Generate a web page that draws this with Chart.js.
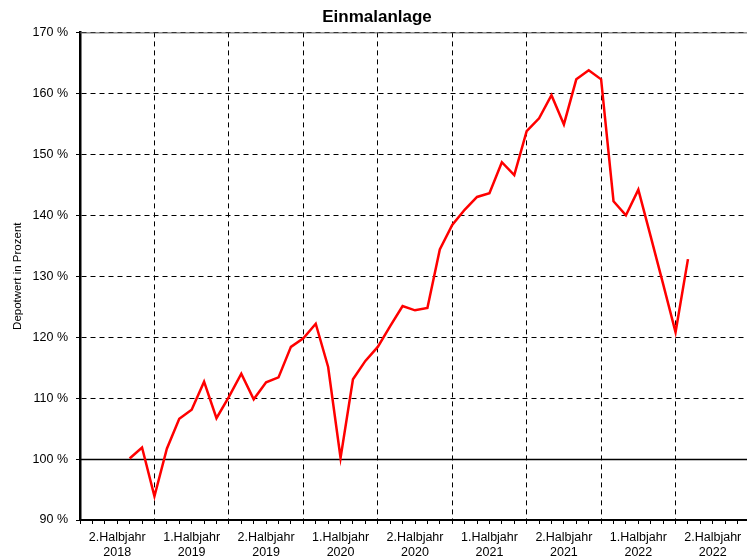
<!DOCTYPE html>
<html>
<head>
<meta charset="utf-8">
<script src="https://cdn.jsdelivr.net/npm/chart.js@4"></script>
<style>
  html, body { margin: 0; padding: 0; background: #fff; overflow: hidden; }
</style>
</head>
<body>
<canvas id="chart" width="756" height="560"></canvas>
<script>
// Monatswerte ab Nov 2018 (Monatsindex 0 = Jul 2018)
const startMonth = 4;
const depotwert = [
  100.1, 101.9, 93.9, 101.7, 106.6, 108.1, 112.7, 106.7, 110.2, 114.0,
  109.8, 112.6, 113.4, 118.4, 119.8, 122.2, 115.1, 100.2, 113.1, 116.1,
  118.4, 121.8, 125.1, 124.4, 124.8, 134.4, 138.4, 140.9, 143.0, 143.6,
  148.7, 146.6, 153.8, 155.9, 159.7, 154.9, 162.3, 163.8, 162.3, 142.3,
  140.0, 144.2, 136.5, 128.7, 120.8, 132.8
];
const halbjahre = [
  ["2.Halbjahr", "2018"], ["1.Halbjahr", "2019"], ["2.Halbjahr", "2019"],
  ["1.Halbjahr", "2020"], ["2.Halbjahr", "2020"], ["1.Halbjahr", "2021"],
  ["2.Halbjahr", "2021"], ["1.Halbjahr", "2022"], ["2.Halbjahr", "2022"]
];
const yTicks = [90, 100, 110, 120, 130, 140, 150, 160, 170];
const baseline = 100;

const points = depotwert.map((v, i) => ({ x: startMonth + i, y: v }));

const framePlugin = {
  id: "frame",
  beforeDatasetsDraw(chart) {
    const { ctx, chartArea: a, scales: { y } } = chart;
    ctx.save();
    ctx.lineWidth = 1;
    ctx.strokeStyle = "#555";
    ctx.beginPath();
    ctx.moveTo(a.left, a.top + 0.5);
    ctx.lineTo(a.right, a.top + 0.5);
    ctx.stroke();
    const by = Math.round(y.getPixelForValue(baseline)) + 0.5;
    ctx.strokeStyle = "#000";
    ctx.lineWidth = 1.3;
    ctx.beginPath();
    ctx.moveTo(a.left, by);
    ctx.lineTo(a.right, by);
    ctx.stroke();
    ctx.restore();
  }
};

const family = "'Liberation Sans', Arial, sans-serif";
const font = { family: family, size: 12.5 };

new Chart(document.getElementById("chart"), {
  type: "line",
  data: {
    datasets: [{
      data: points,
      borderColor: "#ff0000",
      borderWidth: 2.5,
      pointRadius: 0,
      tension: 0,
      fill: false
    }]
  },
  options: {
    responsive: false,
    animation: false,
    devicePixelRatio: 1,
    layout: { padding: { left: 0, right: 2, top: 0, bottom: 0 } },
    plugins: {
      legend: { display: false },
      tooltip: { enabled: false },
      title: {
        display: true,
        text: "Einmalanlage",
        color: "#000",
        font: { family: family, size: 17, weight: "bold" },
        padding: { top: 7, bottom: 5 }
      }
    },
    scales: {
      x: {
        type: "linear",
        min: 0,
        max: halbjahre.length * 6,
        afterFit: (s) => { s.height = 40; },
        ticks: {
          stepSize: 1,
          autoSkip: false,
          maxRotation: 0,
          padding: 6,
          color: "#000",
          font: { family: family, size: 12.5, lineHeight: 1.18 },
          callback: (v) => (v % 6 === 3 ? halbjahre[(v - 3) / 6] : "")
        },
        grid: {
          color: (c) => (c.tick && c.tick.value % 6 === 0 ? "#000" : "rgba(0,0,0,0)"),
          lineWidth: 1,
          tickColor: "#000",
          tickLength: 4,
          tickWidth: 1
        },
        border: { display: true, color: "#000", width: 2, dash: [5, 4] }
      },
      y: {
        min: yTicks[0],
        max: yTicks[yTicks.length - 1],
        afterBuildTicks: (s) => { s.ticks = yTicks.map((v) => ({ value: v })); },
        afterFit: (s) => { s.width = 80; },
        ticks: {
          padding: 8,
          color: "#000",
          font: font,
          callback: (v) => v + " %"
        },
        grid: {
          color: "#000",
          lineWidth: 1,
          tickColor: "#000",
          tickLength: 4
        },
        border: { display: true, color: "#000", width: 2.5, dash: [5, 4] },
        title: {
          display: true,
          text: "Depotwert in Prozent",
          color: "#000",
          font: { family: family, size: 11.5 },
          padding: { top: 11, bottom: 0 }
        }
      }
    }
  },
  plugins: [framePlugin]
});
</script>
</body>
</html>
